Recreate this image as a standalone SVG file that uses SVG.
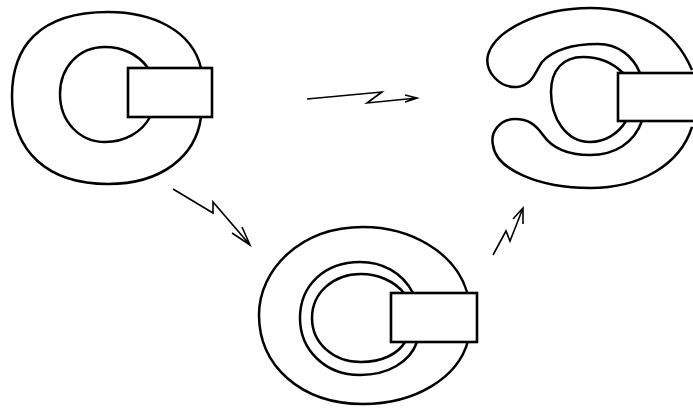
<svg xmlns="http://www.w3.org/2000/svg" width="693" height="408" viewBox="0 0 693 408">
<style>
.c{fill:none;stroke:#000;stroke-width:2.5;stroke-linejoin:round}
.r{fill:#fff;stroke:#000;stroke-width:2.6}
.a{fill:none;stroke:#000;stroke-width:1.6;stroke-linejoin:miter}
</style>
<rect width="693" height="408" fill="#fff"/>
<g id="node1">
<path class="c" d="M201,68 C192,30 152,12 108,12 C38,12 12,48 12,96 C12,152 48,184 108,184 C162,184 196,156 201,117"/>
<path class="c" d="M148,68 C138,54 122,47 105,47 C78,47 60,68 60,94 C60,122 80,142 105,142 C125,142 142,132 150,117"/>
<rect class="r" x="128" y="68" width="84" height="49"/>
</g>
<g id="node2">
<path class="c" d="M692,70 C675,30 640,8 590,8 C540,8 495,30 488,55 C484,72 500,88 517,87 C532,86 535,72 542,62 C555,48 575,44 598,44 C618,44 633,56 640,73"/>
<path class="c" d="M642,121 C634,143 615,155 590,155 C568,155 552,148 543,135 C535,124 528,119 515,119 C500,119 490,132 493,145 C496,170 540,188 590,188 C640,188 680,165 692,127"/>
<path class="c" d="M623,73 C612,62 598,57 583,57 C563,57 551,70 551,92 C551,118 566,142 590,142 C605,142 618,134 626,121"/>
<rect class="r" x="618" y="73" width="80" height="48"/>
</g>
<g id="node3">
<path class="c" d="M467,292 C455,252 410,227 363,227 C300,227 259,270 259,315 C259,365 300,404 363,404 C415,404 458,378 468,341"/>
<path class="c" d="M413,293 C402,272 382,262 360,262 C325,262 300,285 300,318 C300,350 325,375 360,375 C388,375 410,362 417,342"/>
<path class="c" d="M404,293 C394,281 378,274 361,274 C333,274 312,293 312,318 C312,343 333,362 361,362 C382,362 398,354 405,342"/>
<rect class="r" x="391" y="293" width="86" height="49"/>
</g>
<g id="connectors">
<path class="a" d="M173,189 L213,213 L213,202 L250,245 M232,233 L250,245 L242,227"/>
<path class="a" d="M307,99 L382,92 L367,103 L417,98 M405,95 L417,98 L405,102"/>
<path class="a" d="M493,255 L506,231 L510,241 L523,208 M523,224 L523,208 L513,219"/>
</g>
</svg>
